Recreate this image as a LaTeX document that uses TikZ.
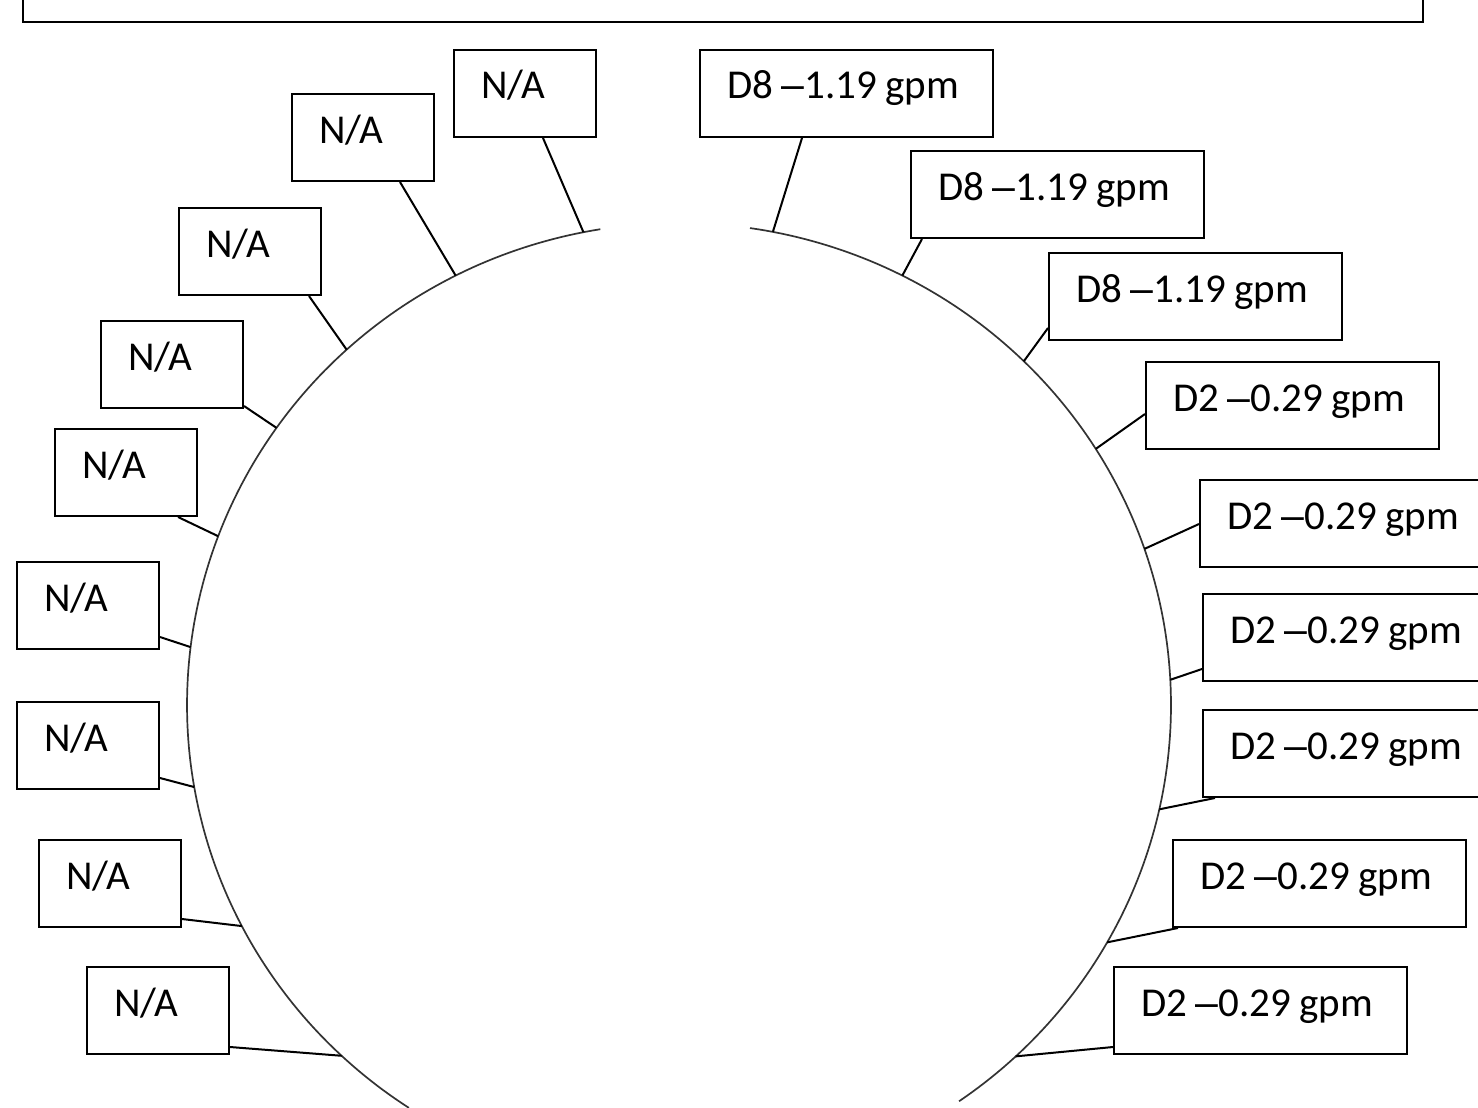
\documentclass[tikz,border=0pt]{standalone}
\usepackage{fontspec}
\setmainfont{Carlito}
\newfontfamily\dashfont{Liberation Sans}
\newcommand{\dsh}{{\dashfont –}}
\newcommand{\tightsp}{\spaceskip=8.5pt\relax}
\begin{document}
\begin{tikzpicture}[x=1pt,y=-1pt,
  box/.style={draw, line width=2pt, anchor=north west, inner xsep=27pt, inner ysep=0pt,
    text height=49pt, text depth=38pt, align=left, font=\fontsize{41}{49}\selectfont},
  na/.style={box, text width=88pt},
  dd/.style={box, text width=239pt},
  link/.style={line width=2pt},
  rim/.style={line width=1.7pt, black!80}]
\useasboundingbox (0,0) rectangle (1478,1108);
\clip (0,0) rectangle (1478,1108);
% top frame
\node[draw, line width=2pt, minimum width=1400pt, minimum height=60pt, inner sep=0pt, anchor=south west] (topbox) at (22,23) {};
% rim
\draw[rim] plot[domain=99.2:236.7, samples=150] ({679+492*cos(\x)},{705-482*sin(\x)});
\draw[rim] plot[domain=81.7:-55.3, samples=150] ({679+492*cos(\x)},{705-482*sin(\x)});
\foreach \n/\a in {a1/101.2, a2/117.0, a3/132.5, a4/144.9, a5/159.5, a6/173.1, a7/189.8, a8/207.3, a9/226.7,
                   b1/79.0, b2/63.0, b3/45.5, b4/32.1, b5/18.9, b6/3.0, b7/-12.5, b8/-29.5, b9/-46.8}
  \coordinate (\n) at ({679+492*cos(\a)},{705-482*sin(\a)});
% left boxes
\node[na] (l1) at (453,49) {N/A};
\node[na] (l2) at (291,93) {N/A};
\node[na] (l3) at (178,207) {N/A};
\node[na] (l4) at (100,320) {N/A};
\node[na] (l5) at (54,428) {N/A};
\node[na] (l6) at (16,561) {N/A};
\node[na] (l7) at (16,701) {N/A};
\node[na] (l8) at (38,839) {N/A};
\node[na] (l9) at (86,966) {N/A};
% right boxes
\node[dd] (r1) at (699,49) {\tightsp\mbox{D8 \dsh1.19 gpm}};
\node[dd] (r2) at (910,150) {\tightsp\mbox{D8 \dsh1.19 gpm}};
\node[dd] (r3) at (1048,252) {\tightsp\mbox{D8 \dsh1.19 gpm}};
\node[dd] (r4) at (1145,361) {\tightsp\mbox{D2 \dsh0.29 gpm}};
\node[dd] (r5) at (1199,479) {\tightsp\mbox{D2 \dsh0.29 gpm}};
\node[dd] (r6) at (1202,593) {\tightsp\mbox{D2 \dsh0.29 gpm}};
\node[dd] (r7) at (1202,709) {\tightsp\mbox{D2 \dsh0.29 gpm}};
\node[dd] (r8) at (1172,839) {\tightsp\mbox{D2 \dsh0.29 gpm}};
\node[dd] (r9) at (1113,966) {\tightsp\mbox{D2 \dsh0.29 gpm}};
% left connectors
\draw[link] ([xshift=90pt]l1.south west) -- (a1);
\draw[link] ([xshift=109pt]l2.south west) -- (a2);
\draw[link] ([xshift=131pt]l3.south west) -- (a3);
\draw[link] ([yshift=3pt]l4.south east) -- (a4);
\draw[link] ([xshift=124pt]l5.south west) -- (a5);
\draw[link] ([yshift=13pt]l6.south east) -- (a6);
\draw[link] ([yshift=12pt]l7.south east) -- (a7);
\draw[link] ([yshift=9pt]l8.south east) -- (a8);
\draw[link] ([yshift=8pt]l9.south east) -- (a9);
% right connectors
\draw[link] ([xshift=103pt]r1.south west) -- (b1);
\draw[link] ([xshift=12pt]r2.south west) -- (b2);
\draw[link] ([yshift=13pt]r3.south west) -- (b3);
\draw[link] ([yshift=36pt]r4.south west) -- (b4);
\draw[link] ([yshift=44pt]r5.south west) -- (b5);
\draw[link] ([yshift=13pt]r6.south west) -- (b6);
\draw[link] ([xshift=13pt]r7.south west) -- (b7);
\draw[link] ([xshift=6pt]r8.south west) -- (b8);
\draw[link] ([yshift=8pt]r9.south west) -- (b9);
\end{tikzpicture}
\end{document}
